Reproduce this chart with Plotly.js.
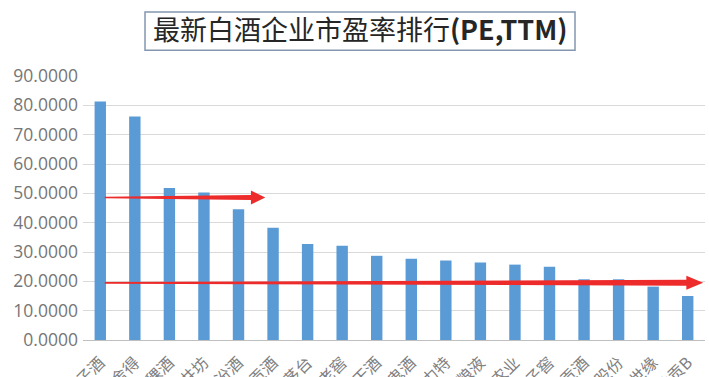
<!DOCTYPE html>
<html><head><meta charset="utf-8">
<script src="https://cdn.plot.ly/plotly-3.0.1.min.js"></script>
<style>html,body{margin:0;padding:0;background:#fff}#c{width:709px;height:377px}</style>
</head><body><div id="c"></div>
<script>
const companies = ["金种子酒","沱牌舍得","青青稞酒","水井坊","山西汾酒","古井贡酒","贵州茅台","泸州老窖","老白干酒","酒鬼酒","伊力特","五粮液","顺鑫农业","口子窖","迎驾贡酒","洋河股份","今世缘","古井贡B"];
const peTTM = [81.3,76.2,51.8,50.3,44.6,38.3,32.7,32.1,28.7,27.7,27.1,26.4,25.7,25.0,20.7,20.7,18.2,15.0];
const yTicks = [0,10,20,30,40,50,60,70,80,90];
const titleText = "最新白酒企业市盈率排行<b>(PE,TTM)</b>";
const arrowLevels = [48.6, 19.5];

function arrowPath(x0, x1, xb, y, w0, w1){
  return `M ${x0},${y-w0} L ${xb},${y-w1} L ${xb},${y-2.4} L ${x1},${y} L ${xb},${y+2.4} L ${xb},${y+w1} L ${x0},${y+w0} Z`;
}

const trace = {
  type:'bar', x:companies, y:peTTM,
  marker:{color:'#5b9bd5'}, width:0.33, hoverinfo:'x+y'
};
const layout = {
  width:709, height:377,
  margin:{l:83, r:4, t:76, b:37},
  paper_bgcolor:'#fff', plot_bgcolor:'#fff',
  showlegend:false,
  title:{text:titleText, x:0.508, xanchor:'center', y:0.918, yanchor:'middle',
         font:{family:'Noto Sans CJK SC, Noto Sans', size:27, color:'#262626'}},
  xaxis:{type:'category', tickangle:-45, showgrid:false, showline:true, linecolor:'#bfbfbf', linewidth:1,
         ticks:'', ticklabelstandoff:6, tickfont:{family:'Noto Sans CJK SC', size:16, color:'#7f7f7f'}, automargin:false, fixedrange:true},
  yaxis:{range:[0,90], tickvals:yTicks, ticktext:yTicks.map(v=>v.toFixed(4)), showgrid:true, gridcolor:'#d9d9d9', gridwidth:1,
         zeroline:false, showline:false, ticks:'', ticklen:0, ticklabelstandoff:4, tickfont:{family:'Open Sans', size:17.5, color:'#767676'}, automargin:false},
  shapes:[
    {type:'rect', xref:'paper', yref:'paper', x0:0.0997, x1:0.791, y0:1.098, y1:1.242,
     line:{color:'#8496b0', width:1.5}, fillcolor:'rgba(0,0,0,0)', layer:'above'},
    {type:'path', xref:'paper', yref:'y', path:arrowPath(0.035,0.293,0.27,arrowLevels[0],0.25,0.85),
     fillcolor:'#ee2b2b', line:{width:0}, layer:'above'},
    {type:'path', xref:'paper', yref:'y', path:arrowPath(0.035,0.997,0.97,arrowLevels[1],0.3,1.0),
     fillcolor:'#ee2b2b', line:{width:0}, layer:'above'}
  ]
};
Plotly.newPlot('c',[trace],layout,{displayModeBar:false, staticPlot:true});
</script></body></html>
